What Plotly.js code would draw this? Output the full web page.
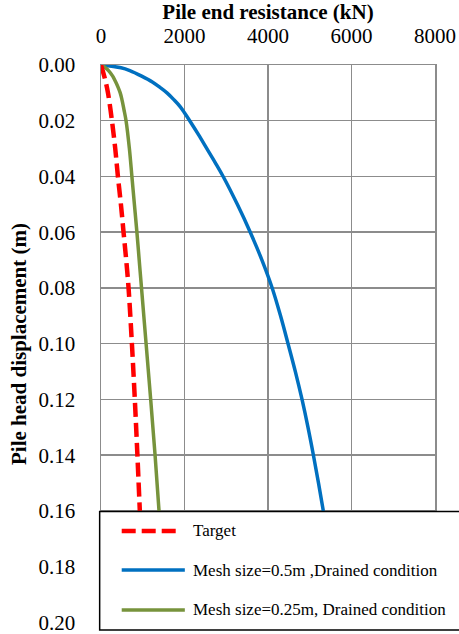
<!DOCTYPE html>
<html>
<head>
<meta charset="utf-8">
<script src="https://cdn.plot.ly/plotly-3.0.1.min.js"></script>
<style>
  html, body { margin: 0; padding: 0; background: #fff; }
  #chart { width: 459px; height: 634px; }
</style>
</head>
<body>
<div id="chart"></div>
<script>
// Pile end resistance (kN) versus pile head displacement (m)
const seriesNames = [
  'Target',
  'Mesh size=0.5m ,Drained condition',
  'Mesh size=0.25m, Drained condition'
];

// Target response
const targetDisp = [0, 0.005, 0.01, 0.02, 0.03, 0.04, 0.05, 0.06, 0.07, 0.08, 0.10, 0.12, 0.14, 0.16];
const targetLoad = [0, 95, 167, 262, 341, 405, 477, 540, 604, 660, 740, 810, 872, 930];

// Mesh size 0.5 m, drained
const coarseDisp = [0, 0.001, 0.002, 0.004, 0.006, 0.008, 0.010, 0.0125, 0.015, 0.0175, 0.02, 0.025, 0.03, 0.035, 0.04, 0.05, 0.06, 0.07, 0.08, 0.09, 0.10, 0.11, 0.12, 0.13, 0.14, 0.15, 0.16];
const coarseLoad = [0, 480, 690, 975, 1220, 1410, 1580, 1750, 1900, 2015, 2125, 2335, 2535, 2735, 2926, 3265, 3575, 3855, 4100, 4300, 4480, 4655, 4815, 4958, 5088, 5210, 5325];

// Mesh size 0.25 m, drained
const fineDisp = [0, 0.001, 0.002, 0.004, 0.006, 0.008, 0.01, 0.012, 0.016, 0.02, 0.03, 0.04, 0.05, 0.06, 0.07, 0.08, 0.10, 0.12, 0.14, 0.16];
const fineLoad = [0, 110, 180, 280, 350, 410, 460, 495, 550, 600, 680, 740, 800, 860, 915, 970, 1080, 1190, 1295, 1390];

const xTicks = [0, 2000, 4000, 6000, 8000];
const yTicks = [0, 0.02, 0.04, 0.06, 0.08, 0.10, 0.12, 0.14, 0.16, 0.18, 0.20];

const serif = 'Liberation Serif';
const gridColor = '#8c8c8c';
const colors = ['#ff0000', '#0070c0', '#77933c'];
const widths = [4.5, 3.5, 3.5];
const dashes = ['14px,6px', 'solid', 'solid'];

const traces = [
  { x: targetLoad, y: targetDisp },
  { x: coarseLoad, y: coarseDisp },
  { x: fineLoad, y: fineDisp }
].map((d, i) => ({
  x: d.x, y: d.y, name: seriesNames[i], type: 'scatter', mode: 'lines',
  line: { color: colors[i], width: widths[i], dash: dashes[i], shape: 'spline', smoothing: 1 },
  showlegend: false, hoverinfo: 'skip'
}));
// draw the solid curves under the dashed target
const ordered = [traces[1], traces[2], traces[0]];

// Boxed key in the lower part of the plot
const keyRows = [0.165, 0.0948, 0.0233];
const keyShapes = [{
  type: 'rect', xref: 'paper', yref: 'paper', layer: 'above',
  x0: -0.004, x1: 1.2, y0: -0.0125, y1: 0.2,
  fillcolor: '#ffffff', line: { color: '#000000', width: 1.5 }
}];
const keyText = [];
seriesNames.forEach((name, i) => {
  keyShapes.push({
    type: 'line', xref: 'paper', yref: 'paper', layer: 'above',
    x0: 0.062, x1: i === 0 ? 0.232 : 0.251, y0: keyRows[i], y1: keyRows[i],
    line: { color: colors[i], width: widths[i], dash: dashes[i] }
  });
  keyText.push({
    xref: 'paper', yref: 'paper', x: 0.27, y: keyRows[i],
    xanchor: 'left', yanchor: 'middle', showarrow: false,
    text: name, font: { family: serif, size: 17, color: '#000' }
  });
});

const layout = {
  width: 459, height: 634,
  margin: { l: 101, r: 24, t: 65, b: 11 },
  paper_bgcolor: '#ffffff', plot_bgcolor: '#ffffff',
  showlegend: false,
  font: { family: serif, color: '#000' },
  xaxis: {
    side: 'top', range: [0, 8000], tickvals: xTicks, ticktext: xTicks.map(String),
    showgrid: true, gridcolor: gridColor, gridwidth: 1.5,
    showline: true, linecolor: gridColor, linewidth: 1.5, mirror: true,
    zeroline: false, ticks: '', ticklabelstandoff: 12, ticklabeloverflow: 'allow',
    tickfont: { family: serif, size: 21, color: '#000' },
    title: { text: '<b>Pile end resistance (kN)</b>', standoff: 8,
             font: { family: serif, size: 21, color: '#000' } }
  },
  yaxis: {
    range: [0.2002, 0], tickvals: yTicks, tickformat: '.2f',
    showgrid: true, gridcolor: gridColor, gridwidth: 1.5,
    showline: true, linecolor: gridColor, linewidth: 1.5, mirror: true,
    zeroline: false, ticks: '', ticklabelstandoff: 20, ticklabeloverflow: 'allow',
    tickfont: { family: serif, size: 21, color: '#000' },
    title: { text: '<b>Pile head displacement (m)</b>', standoff: 6,
             font: { family: serif, size: 21, color: '#000' } }
  },
  shapes: keyShapes,
  annotations: keyText
};

Plotly.newPlot('chart', ordered, layout, { staticPlot: true, displayModeBar: false });
</script>
</body>
</html>
